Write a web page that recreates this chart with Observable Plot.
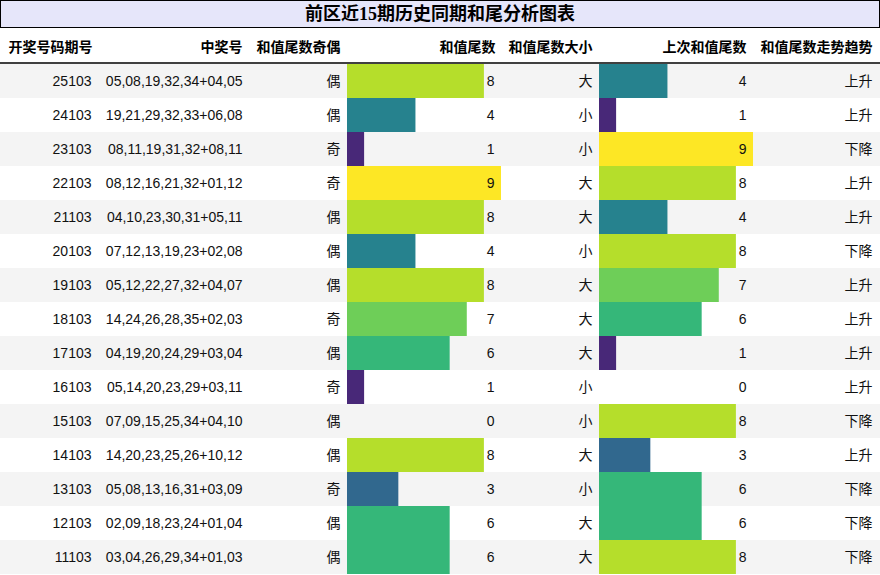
<!DOCTYPE html>
<html><head><meta charset="utf-8">
<script src="https://cdn.jsdelivr.net/npm/d3@7"></script>
<script src="https://cdn.jsdelivr.net/npm/@observablehq/plot@0.6"></script>
<style>
body{margin:0;background:#fff;}
#title{box-sizing:border-box;width:880px;height:28px;border:1px solid #000;background:#e6e6fa;text-align:center;font:bold 18px 'Liberation Serif','Noto Sans CJK SC',serif;line-height:26px;color:#000;}
</style></head><body>
<div id="title">前区近15期历史同期和尾分析图表</div>
<div id="chart"></div>
<script>
// ---- data ----
const periods = [25103, 24103, 23103, 22103, 21103, 20103, 19103, 18103, 17103, 16103, 15103, 14103, 13103, 12103, 11103];
const numbers = ["05,08,19,32,34+04,05","19,21,29,32,33+06,08","08,11,19,31,32+08,11","08,12,16,21,32+01,12","04,10,23,30,31+05,11","07,12,13,19,23+02,08","05,12,22,27,32+04,07","14,24,26,28,35+02,03","04,19,20,24,29+03,04","05,14,20,23,29+03,11","07,09,15,25,34+04,10","14,20,23,25,26+10,12","05,08,13,16,31+03,09","02,09,18,23,24+01,04","03,04,26,29,34+01,03"];
const parity = ["偶","偶","奇","奇","偶","偶","偶","奇","偶","奇","偶","偶","奇","偶","偶"];
const sumTails = [8,4,1,9,8,4,8,7,6,1,0,8,3,6,6];
const sizes = ["大","小","小","大","大","小","大","大","大","小","小","大","小","大","大"];
const prevTails = [4,1,9,8,4,8,7,6,1,0,8,3,6,6,8];
const trends = ["上升","上升","下降","上升","上升","下降","上升","上升","上升","上升","下降","上升","下降","下降","下降"];
const headers = ["开奖号码期号","中奖号","和值尾数奇偶","和值尾数","和值尾数大小","上次和值尾数","和值尾数走势趋势"];

const rows = periods.map((p, i) => ({
  period: String(p), numbers: numbers[i], parity: parity[i], sum: sumTails[i],
  size: sizes[i], prev: prevTails[i], trend: trends[i], shaded: i % 2 === 0
}));

// ---- layout ----
const fields = ["period","numbers","parity","sum","size","prev","trend"];
const textEnd = [91, 242, 340, 494, 592, 746, 872];
const headerEnd = [8, 242, 340, 495, 592, 746, 872];
const headerAnchor = ["start","end","end","end","end","end","end"];
const barShift = 252;
const font = "'Liberation Sans','Noto Sans CJK SC',sans-serif";

const marks = [
  Plot.cell(rows, {y: "period", filter: d => d.shaded, fill: "#f4f4f4"}),
  Plot.barX(rows, {y: "period", x: "sum", fill: "sum", inset: 0}),
  Plot.barX(rows, {y: "period", x: "prev", fill: "prev", inset: 0, dx: barShift})
];
fields.forEach((f, k) => {
  marks.push(Plot.text(rows, {y: "period", text: f, frameAnchor: "left", dx: textEnd[k],
    textAnchor: "end", fontSize: 14, fill: "#111"}));
});
headers.forEach((h, k) => {
  marks.push(Plot.text([h], {text: d => d, frameAnchor: "top-left", lineAnchor: "middle",
    dx: headerEnd[k], dy: -17, textAnchor: headerAnchor[k], fontSize: 14, fontWeight: "bold", fill: "#000"}));
});

const chart = Plot.plot({
  width: 880, height: 547,
  marginTop: 36, marginBottom: 1, marginLeft: 0, marginRight: 0,
  style: {fontFamily: font, fontSize: "14px", background: "#fff"},
  x: {domain: [0, 9], range: [347, 501], axis: null},
  y: {domain: rows.map(d => d.period), padding: 0, axis: null},
  color: {type: "linear", scheme: "viridis", domain: [0, 9]},
  marks
});
d3.select(chart).append("line")
  .attr("x1", 0).attr("x2", 880).attr("y1", 35).attr("y2", 35)
  .attr("stroke", "#000").attr("stroke-width", 1.5);
document.getElementById("chart").appendChild(chart);
</script>
</body></html>
